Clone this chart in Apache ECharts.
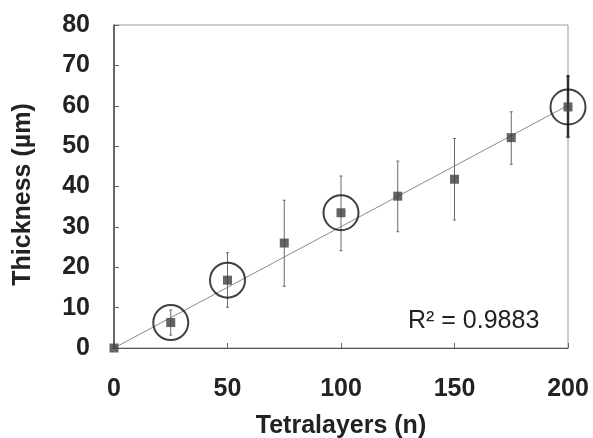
<!DOCTYPE html>
<html>
<head>
<meta charset="utf-8">
<script src="https://cdn.jsdelivr.net/npm/echarts@6/dist/echarts.min.js"></script>
<style>
  html, body { margin: 0; padding: 0; background: #fff; }
  #chart { width: 593px; height: 438px; }
</style>
</head>
<body>
<div id="chart"></div>
<script>
// measured data
const layers = [0, 25, 50, 75, 100, 125, 150, 175, 200];
const thickness = [0, 6.3, 16.8, 26.0, 33.5, 37.6, 41.8, 52.1, 59.7];
const errLow = [0, 3.2, 10.1, 15.3, 24.1, 28.8, 31.7, 45.5, 52.3];
const errHigh = [0, 9.4, 23.6, 36.6, 42.6, 46.3, 51.9, 58.5, 67.3];
const circled = [25, 50, 100, 200];
const trendX = [0, 200];
const trendY = [0, 60.1];
const rSquared = 'R² = 0.9883';

const FONT = '"Liberation Sans", Arial, sans-serif';

const points = layers.map((x, i) => [x, thickness[i]]);
const bars = layers.map((x, i) => [x, errLow[i], errHigh[i]]);
const rings = circled.map((x) => [x, thickness[layers.indexOf(x)]]);
const trend = trendX.map((x, i) => [x, trendY[i]]);

const chart = echarts.init(document.getElementById('chart'));

chart.setOption({
  animation: false,
  backgroundColor: '#fff',
  grid: {
    left: 114, right: 25, top: 25, bottom: 90,
    outerBoundsMode: 'none',
    show: true, borderColor: '#9a9a9a', borderWidth: 1,
  },
  xAxis: {
    type: 'value',
    min: 0, max: 200, interval: 50,
    name: 'Tetralayers (n)',
    nameLocation: 'middle',
    nameGap: 66,
    nameTextStyle: { fontFamily: FONT, fontWeight: 'bold', fontSize: 25, color: '#222' },
    axisLine: { show: true, lineStyle: { color: '#555', width: 1 } },
    axisTick: { show: true, inside: true, length: 5, lineStyle: { color: '#666' } },
    axisLabel: { margin: 29, fontFamily: FONT, fontWeight: 'bold', fontSize: 25, color: '#222' },
    splitLine: { show: false },
  },
  yAxis: {
    type: 'value',
    min: 0, max: 80, interval: 10,
    name: 'Thickness (µm)',
    nameLocation: 'middle',
    nameGap: 78,
    nameTextStyle: {
      fontFamily: FONT, fontWeight: 'bold', fontSize: 25, color: '#222',
      padding: [0, 16, 0, 0],
    },
    axisLine: { show: true, lineStyle: { color: '#444', width: 1.5 } },
    axisTick: { show: true, inside: true, length: 5, lineStyle: { color: '#666' } },
    axisLabel: { margin: 24, fontFamily: FONT, fontWeight: 'bold', fontSize: 25, color: '#222' },
    splitLine: { show: false },
  },
  graphic: [{
    type: 'text',
    left: 408,
    top: 309,
    style: { text: rSquared, font: '25px ' + FONT, fill: '#222' },
  }],
  series: [
    {
      name: 'trend',
      type: 'line',
      data: trend,
      showSymbol: false,
      lineStyle: { color: '#8a8a8a', width: 1 },
      z: 1,
    },
    {
      name: 'error',
      type: 'custom',
      data: bars,
      z: 2,
      renderItem: function (params, api) {
        const x = api.value(0);
        const lo = api.coord([x, api.value(1)]);
        const hi = api.coord([x, api.value(2)]);
        const cap = 1.5;
        // last bar sits on the frame and looks heavier in the original
        const last = params.dataIndex === bars.length - 1;
        const style = { stroke: last ? '#333' : '#6a6a6a', lineWidth: last ? 2.5 : 1 };
        return {
          type: 'group',
          children: [
            { type: 'line', shape: { x1: lo[0], y1: lo[1], x2: hi[0], y2: hi[1] }, style: style },
            { type: 'line', shape: { x1: lo[0] - cap, y1: lo[1], x2: lo[0] + cap, y2: lo[1] }, style: style },
            { type: 'line', shape: { x1: hi[0] - cap, y1: hi[1], x2: hi[0] + cap, y2: hi[1] }, style: style },
          ],
        };
      },
    },
    {
      name: 'thickness',
      type: 'scatter',
      data: points,
      symbol: 'rect',
      symbolSize: 9,
      itemStyle: { color: '#3f3f3f' },
      z: 3,
    },
    {
      name: 'circled',
      type: 'scatter',
      data: rings,
      symbol: 'circle',
      symbolSize: 35,
      itemStyle: { color: 'rgba(0,0,0,0)', borderColor: '#111', borderWidth: 2 },
      z: 4,
    },
  ],
});
</script>
</body>
</html>
